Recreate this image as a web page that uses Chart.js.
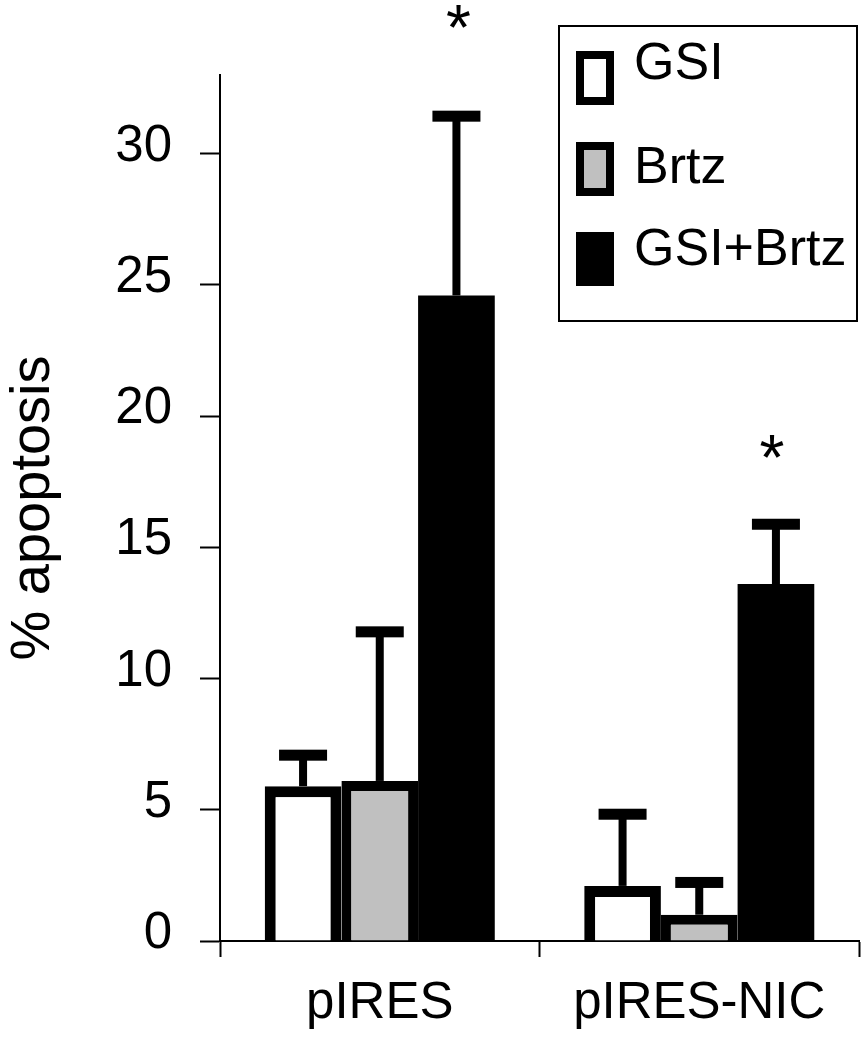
<!DOCTYPE html>
<html>
<head>
<meta charset="utf-8">
<script src="https://cdn.jsdelivr.net/npm/chart.js@4"></script>
<style>
  html, body { margin: 0; padding: 0; background: #fff; }
  canvas { display: block; }
</style>
</head>
<body>
<canvas id="apoptosisChart" width="861" height="1050"></canvas>
<script>
// datos
const groups = ["pIRES", "pIRES-NIC"];
const seriesNames = ["GSI", "Brtz", "GSI+Brtz"];
const gsiValues = [5.9, 2.1];
const brtzValues = [6.1, 1.0];
const comboValues = [24.6, 13.6];
const gsiErrors = [1.2, 2.75];
const brtzErrors = [5.7, 1.25];
const comboErrors = [6.85, 2.3];
const yTicks = [0, 5, 10, 15, 20, 25, 30];
const starLevels = [35.1, 18.7]; // asteriscos sobre GSI+Brtz

const FONT = "'Liberation Sans', Arial, sans-serif";

// barras de error (solo hacia arriba)
const errorBars = {
  id: "errorBars",
  afterDatasetsDraw(chart) {
    const ctx = chart.ctx;
    const y = chart.scales.y;
    ctx.save();
    ctx.fillStyle = "#000";
    chart.data.datasets.forEach((ds, i) => {
      const meta = chart.getDatasetMeta(i);
      meta.data.forEach((bar, j) => {
        const top = y.getPixelForValue(ds.data[j] + ds.errors[j]);
        ctx.fillRect(bar.x - 4, top, 8, bar.y - top);
        ctx.fillRect(bar.x - 24, top - 5, 48, 11);
      });
    });
    // asteriscos
    const combo = chart.getDatasetMeta(2);
    ctx.font = "64px " + FONT;
    ctx.textAlign = "center";
    ctx.textBaseline = "middle";
    combo.data.forEach((bar, j) => {
      ctx.fillText("*", bar.x + (j === 0 ? 2 : -4), y.getPixelForValue(starLevels[j]) + 12);
    });
    ctx.restore();
  }
};

// leyenda con marco
const boxLegend = {
  id: "boxLegend",
  afterDraw(chart) {
    const ctx = chart.ctx;
    ctx.save();
    ctx.lineWidth = 2;
    ctx.strokeStyle = "#000";
    ctx.strokeRect(559, 26, 298, 295);
    const swatchY = [78, 169, 259];
    const textY = [62, 166, 248];
    ctx.font = "52px " + FONT;
    ctx.textBaseline = "middle";
    ctx.textAlign = "left";
    chart.data.datasets.forEach((ds, i) => {
      const cy = swatchY[i];
      ctx.fillStyle = "#000";
      ctx.fillRect(576, cy - 27, 38, 54);
      if (i < 2) {
        ctx.fillStyle = ds.backgroundColor;
        ctx.fillRect(584, cy - 19, 22, 38);
      }
      ctx.fillStyle = "#000";
      ctx.fillText(ds.label, 634, textY[i] + 3);
    });
    ctx.restore();
  }
};

new Chart(document.getElementById("apoptosisChart"), {
  type: "bar",
  data: {
    labels: groups,
    datasets: [
      {
        label: seriesNames[0],
        data: gsiValues,
        errors: gsiErrors,
        backgroundColor: "#ffffff",
        borderColor: "#000000",
        borderSkipped: false,
        borderWidth: { top: 11, left: 11, right: 11, bottom: 0 },
      },
      {
        label: seriesNames[1],
        data: brtzValues,
        errors: brtzErrors,
        backgroundColor: "#c0c0c0",
        borderColor: "#000000",
        borderSkipped: false,
        borderWidth: { top: 10, left: 10, right: 10, bottom: 0 },
      },
      {
        label: seriesNames[2],
        data: comboValues,
        errors: comboErrors,
        backgroundColor: "#000000",
        borderWidth: 0,
      },
    ],
  },
  options: {
    responsive: false,
    animation: false,
    layout: { padding: { top: 75, right: 2, left: 0, bottom: 0 } },
    datasets: {
      bar: { categoryPercentage: 0.72, barPercentage: 1.0 },
    },
    plugins: {
      legend: { display: false },
      tooltip: { enabled: false },
    },
    scales: {
      x: {
        grid: { offset: true, drawOnChartArea: false, tickLength: 16, tickWidth: 2, tickColor: "#000" },
        border: { color: "#000", width: 2 },
        ticks: { color: "#000", padding: 16, font: { family: FONT, size: 51 } },
        afterFit(scale) { scale.height = 109; },
      },
      y: {
        min: 0,
        max: 33,
        afterBuildTicks(scale) { scale.ticks = yTicks.map(v => ({ value: v })); },
        grid: { drawOnChartArea: false, tickLength: 20, tickWidth: 2, tickColor: "#000" },
        border: { color: "#000", width: 2 },
        ticks: { color: "#000", padding: 28, labelOffset: -7, font: { family: FONT, size: 51 } },
        title: {
          display: true,
          text: "% apoptosis",
          color: "#000",
          padding: 0,
          font: { family: FONT, size: 56 },
        },
        afterFit(scale) { scale.width = 220; },
      },
    },
  },
  plugins: [errorBars, boxLegend],
});
</script>
</body>
</html>
